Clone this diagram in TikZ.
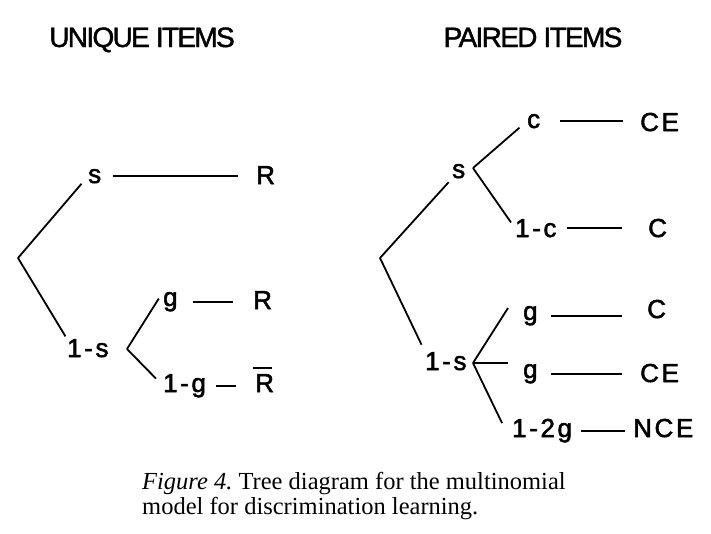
\documentclass[tikz,border=0pt]{standalone}
\usepackage{fontspec}
\setmainfont{Liberation Serif}
\newfontfamily\lblfont[LetterSpace=10,FakeBold=2]{Liberation Sans}
\newfontfamily\headfont[LetterSpace=-6,FakeBold=1.5]{Liberation Sans}
\usepackage{tikz}

\tikzset{
  lbl/.style={inner sep=0pt, anchor=base west, font=\lblfont\fontsize{26}{30}\selectfont},
  head/.style={inner sep=0pt, anchor=base, font=\headfont\fontsize{28}{32}\selectfont},
  edge/.style={line width=1.8pt},
}

\begin{document}
\begin{tikzpicture}[x=1pt,y=-1pt]
\useasboundingbox (0,0) rectangle (711,533);
% headings
\node[head] (hu) at (142,47) {UNIQUE ITEMS};
\node[head] (hp) at (533,47) {PAIRED ITEMS};
% unique items
\coordinate (rootL) at (18,258);
\coordinate (brL) at (127,349);
\node[lbl] (sL) at (88,183) {s};
\node[lbl] (RaL) at (256,184) {R};
\node[lbl] (oneSL) at (67,357) {1-s};
\node[lbl] (gL) at (163,306) {g};
\node[lbl] (RbL) at (253,309) {R};
\node[lbl] (oneGL) at (163,392) {1-g};
\node[lbl] (RcL) at (255,392) {R};
\draw[line width=1.5pt]([shift={(-2pt,6pt)}]RcL.north west)--([shift={(-2pt,6pt)}]RcL.north east);
\draw[edge,shorten >=10pt](rootL)--(sL.west);
\draw[edge,shorten >=3pt](rootL)--(oneSL.north west);
\draw[edge,shorten >=8pt](brL)--(gL.north west);
\draw[edge,shorten >=10pt](brL)--(oneGL.west);
\draw[edge,shorten <=12pt,shorten >=18pt](sL.east)--(sL.east -| RaL.west);
\draw[edge,shorten <=15pt,shorten >=20pt](gL.east)--(gL.east -| RbL.west);
\draw[edge,shorten <=10pt,shorten >=19pt](oneGL.east)--(oneGL.east -| RcL.west);
% paired items
\coordinate (rootR) at (380,258);
\coordinate (brR) at (473,168);
\coordinate (brSR) at (473,363);
\coordinate (tipA) at (508,308);
\coordinate (tipB) at (508,363);
\coordinate (tipC) at (502,423);
\node[lbl] (sR) at (452,178) {s};
\node[lbl] (cR) at (527,128) {c};
\node[lbl] (CEaR) at (640,131) {CE};
\node[lbl] (oneCR) at (515,237) {1-c};
\node[lbl] (CaR) at (648,237) {C};
\node[lbl] (oneSR) at (425,370) {1-s};
\node[lbl] (gaR) at (523,320) {g};
\node[lbl] (CbR) at (647,318) {C};
\node[lbl] (gbR) at (523,378) {g};
\node[lbl] (CEbR) at (640,382) {CE};
\node[lbl] (oneTwoGR) at (512,437) {1-2g};
\node[lbl] (NCER) at (633,437) {NCE};
\draw[edge,shorten >=5pt](rootR)--(sR.south west);
\draw[edge,shorten >=8pt](rootR)--(oneSR.north west);
\draw[edge,shorten >=10pt](brR)--(cR.west);
\draw[edge,shorten >=7pt](brR)--(oneCR.west);
\draw[edge](brSR)--(tipA);
\draw[edge](brSR)--(tipB);
\draw[edge](brSR)--(tipC);
\draw[edge,shorten <=20pt,shorten >=17pt](cR.east)--(cR.east -| CEaR.west);
\draw[edge,shorten <=10pt,shorten >=26pt](oneCR.east)--(oneCR.east -| CaR.west);
\draw[edge,shorten <=13pt,shorten >=25pt](gaR.east)--(gaR.east -| CbR.west);
\draw[edge,shorten <=13pt,shorten >=18pt](gbR.east)--(gbR.east -| CEbR.west);
\draw[edge,shorten <=9pt,shorten >=8pt](oneTwoGR.east)--(oneTwoGR.east -| NCER.west);
% caption
\node[inner sep=0pt,anchor=north west,align=left,font=\fontsize{24.5}{25}\selectfont] (cap) at (142,472)
  {\textit{Figure 4.}\ Tree diagram for the multinomial\\model for discrimination learning.};
\end{tikzpicture}
\end{document}
